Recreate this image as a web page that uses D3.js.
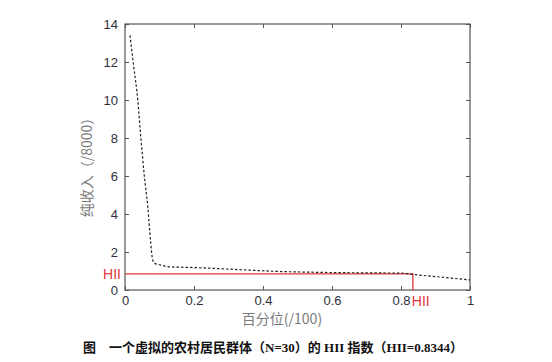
<!DOCTYPE html>
<html>
<head>
<meta charset="utf-8">
<script src="https://cdn.jsdelivr.net/npm/d3@7"></script>
<style>
  body { margin: 0; background: #fff; }
  svg { display: block; }
</style>
</head>
<body>
<svg id="chart" width="552" height="362"></svg>
<script>
// percentile (x) and net income (/8000)
const percentile = [0.0145, 0.025, 0.037, 0.046, 0.056, 0.066, 0.074, 0.08, 0.086, 0.1, 0.13, 0.2, 0.3, 0.44, 0.56, 0.71, 0.8, 0.84, 0.92, 1.0];
const income = [13.4, 11.8, 10, 8, 6, 4.4, 2.6, 1.6, 1.4, 1.33, 1.22, 1.18, 1.1, 0.98, 0.93, 0.9, 0.89, 0.81, 0.67, 0.53];
const xTicks = [0, 0.2, 0.4, 0.6, 0.8, 1];
const yTicks = [0, 2, 4, 6, 8, 10, 12, 14];
const hiiX = 0.8344;
const hiiY = 0.85;

const box = { left: 125, right: 470, top: 24, bottom: 290 };
const svg = d3.select('#chart');

const x = d3.scaleLinear().domain([0, 1]).range([box.left, box.right]);
const y = d3.scaleLinear().domain([0, 14]).range([box.bottom, box.top]);

const axisColor = '#555';
const labelColor = '#2e2e3a';
const font = 'Liberation Sans, Arial, sans-serif';

// frame
svg.append('rect')
    .attr('x', box.left).attr('y', box.top)
    .attr('width', box.right - box.left).attr('height', box.bottom - box.top)
    .attr('fill', 'none').attr('stroke', axisColor).attr('stroke-width', 1.2);

// inward ticks on all four sides
const tickLen = 4;
function styleAxis(g) {
    g.select('.domain').remove();
    g.selectAll('line').attr('stroke', axisColor).attr('stroke-width', 1);
    g.selectAll('text').attr('fill', labelColor).style('font-family', font).style('font-size', '13px');
}
svg.append('g').attr('transform', `translate(0,${box.bottom})`)
    .call(d3.axisBottom(x).tickValues(xTicks).tickSizeInner(-tickLen).tickPadding(6).tickFormat(d3.format('')))
    .call(styleAxis);
svg.append('g').attr('transform', `translate(0,${box.top})`)
    .call(d3.axisTop(x).tickValues(xTicks).tickSizeInner(-tickLen).tickFormat(''))
    .call(styleAxis);
svg.append('g').attr('transform', `translate(${box.left},0)`)
    .call(d3.axisLeft(y).tickValues(yTicks).tickSizeInner(-tickLen).tickPadding(7))
    .call(styleAxis);
svg.append('g').attr('transform', `translate(${box.right},0)`)
    .call(d3.axisRight(y).tickValues(yTicks).tickSizeInner(-tickLen).tickFormat(''))
    .call(styleAxis);

// HII lines
const red = '#e2383a';
svg.append('path')
    .attr('d', `M${x(0)},${y(hiiY)}H${x(hiiX)}V${y(0)}`)
    .attr('fill', 'none').attr('stroke', red).attr('stroke-width', 1.3);

// dashed income curve
const line = d3.line().x((d, i) => x(percentile[i])).y(d => y(d)).curve(d3.curveMonotoneX);
svg.append('path')
    .datum(income)
    .attr('d', line)
    .attr('fill', 'none').attr('stroke', '#222').attr('stroke-width', 1.2)
    .attr('stroke-dasharray', '2.5,2');

// HII labels
svg.append('text').attr('x', box.left - 4).attr('y', y(hiiY) + 5)
    .attr('text-anchor', 'end').attr('fill', red)
    .style('font-family', font).style('font-size', '14px').text('HII');
svg.append('text').attr('x', x(hiiX) - 1).attr('y', box.bottom + 16)
    .attr('fill', red)
    .style('font-family', font).style('font-size', '14px').text('HII');

// axis titles
svg.append('text').attr('x', 282).attr('y', 324)
    .attr('text-anchor', 'middle').attr('fill', '#7a7a7a')
    .style('font-family', 'Noto Sans CJK SC, sans-serif').style('font-size', '14px')
    .text('百分位(/100)');
svg.append('text')
    .attr('transform', 'translate(92,164) rotate(-90)')
    .attr('text-anchor', 'middle').attr('fill', '#7a7a7a')
    .style('font-family', 'Noto Sans CJK SC, sans-serif').style('font-size', '14px')
    .text('纯收入（/8000）');

// caption
svg.append('text').attr('x', 273).attr('y', 352)
    .attr('text-anchor', 'middle').attr('fill', '#111')
    .style('font-family', 'Liberation Serif, Noto Sans CJK SC, serif').style('font-size', '13px')
    .style('font-weight', 'bold')
    .text('图　一个虚拟的农村居民群体（N=30）的 HII 指数（HII=0.8344）');
</script>
</body>
</html>
